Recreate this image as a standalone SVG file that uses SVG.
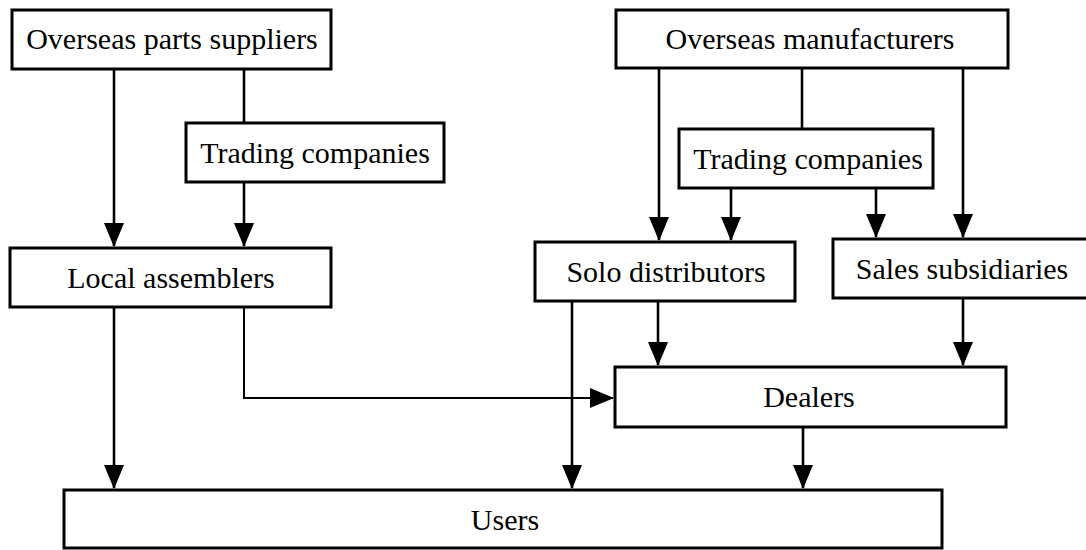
<svg xmlns="http://www.w3.org/2000/svg" width="1086" height="550" viewBox="0 0 1086 550">
<style>
.box{fill:#fff;stroke:#000;stroke-width:3}
.lbl{font-family:"Liberation Serif","Times New Roman","DejaVu Serif",serif;font-size:30px;fill:#000;text-anchor:middle}
.ln{fill:none;stroke:#000;stroke-width:2.6}
.thin{stroke-width:2}
</style>
<defs>
<marker id="ah" markerUnits="userSpaceOnUse" markerWidth="24" markerHeight="20" viewBox="0 0 24 20" refX="23" refY="10" orient="auto">
<path d="M0,0 L24,10 L0,20 Z" fill="#000"/>
</marker>
</defs>
<rect width="1086" height="550" fill="#fff"/>
<g id="connectors">
<path class="ln" d="M114,69 V246" marker-end="url(#ah)"/>
<path class="ln" d="M244,69 V123"/>
<path class="ln" d="M244,182 V246" marker-end="url(#ah)"/>
<path class="ln" d="M659,68 V240" marker-end="url(#ah)"/>
<path class="ln" d="M802,68 V129"/>
<path class="ln" d="M963,68 V237" marker-end="url(#ah)"/>
<path class="ln" d="M731,188 V240" marker-end="url(#ah)"/>
<path class="ln" d="M876,188 V237" marker-end="url(#ah)"/>
<path class="ln" d="M114,307 V488" marker-end="url(#ah)"/>
<path class="ln thin" d="M244,307 V398 H613" marker-end="url(#ah)"/>
<path class="ln" d="M572,301 V488" marker-end="url(#ah)"/>
<path class="ln" d="M658,301 V365" marker-end="url(#ah)"/>
<path class="ln" d="M963,298 V365" marker-end="url(#ah)"/>
<path class="ln" d="M803,427 V488" marker-end="url(#ah)"/>
</g>
<g id="overseas-parts-suppliers">
<rect class="box" x="12" y="10" width="319" height="59"/>
<text class="lbl" x="172" y="49">Overseas parts suppliers</text>
</g>
<g id="trading-companies-left">
<rect class="box" x="186" y="123" width="258" height="59"/>
<text class="lbl" x="315" y="163">Trading companies</text>
</g>
<g id="local-assemblers">
<rect class="box" x="10" y="248" width="321" height="59"/>
<text class="lbl" x="171" y="288">Local assemblers</text>
</g>
<g id="overseas-manufacturers">
<rect class="box" x="616" y="10" width="392" height="58"/>
<text class="lbl" x="810" y="49">Overseas manufacturers</text>
</g>
<g id="trading-companies-right">
<rect class="box" x="679" y="129" width="254" height="59"/>
<text class="lbl" x="808" y="169">Trading companies</text>
</g>
<g id="solo-distributors">
<rect class="box" x="535" y="242" width="260" height="59"/>
<text class="lbl" x="666" y="282">Solo distributors</text>
</g>
<g id="sales-subsidiaries">
<rect class="box" x="833" y="239" width="258" height="59"/>
<text class="lbl" x="962" y="279">Sales subsidiaries</text>
</g>
<g id="dealers">
<rect class="box" x="615" y="367" width="391" height="60"/>
<text class="lbl" x="809" y="407">Dealers</text>
</g>
<g id="users">
<rect class="box" x="64" y="490" width="878" height="58"/>
<text class="lbl" x="505" y="530">Users</text>
</g>
</svg>
